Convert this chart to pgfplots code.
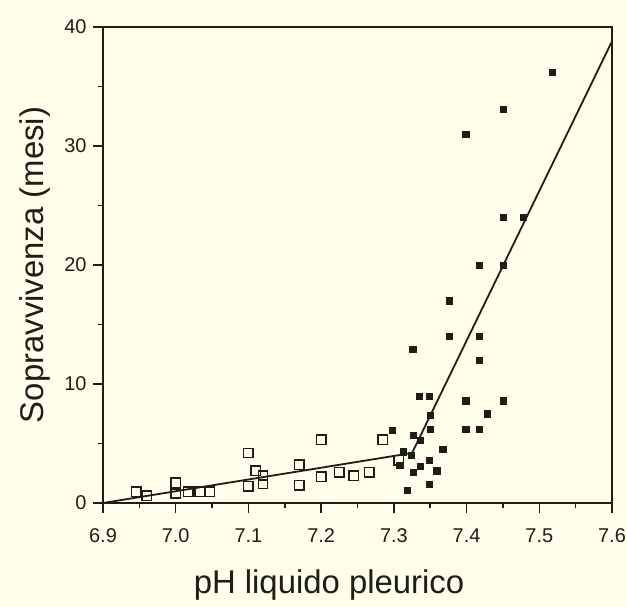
\documentclass[border=0pt]{standalone}
\usepackage{fontspec}
\setmainfont{Liberation Sans}
\usepackage{pgfplots}
\pgfplotsset{compat=1.18}
\definecolor{bg}{RGB}{255,255,236}
\definecolor{ink}{HTML}{1E1E18}
\begin{document}
\begin{tikzpicture}
\fill[bg] (-103bp,-104bp) rectangle (524bp,503bp);
\begin{axis}[
	at={(0,0)}, anchor=south west,
	scale only axis,
	width=509bp, height=476bp,
	xmin=6.9, xmax=7.6,
	ymin=0, ymax=40,
	xtick={6.9,7.0,7.1,7.2,7.3,7.4,7.5,7.6},
	ytick={0,10,20,30,40},
	minor x tick num=1,
	minor y tick num=1,
	xtick pos=left, ytick pos=left,
	tick align=outside,
	major tick length=10bp,
	minor tick length=5bp,
	axis line style={ink, line width=1.8bp},
	every tick/.style={ink, line width=1.5bp},
	/pgf/number format/assume math mode=true,
	tick label style={font=\fontsize{20}{24}\selectfont, text=ink},
	xticklabel style={yshift=-12bp, /pgf/number format/.cd, fixed, fixed zerofill, precision=1},
	yticklabel style={xshift=-3bp},
	xlabel={pH liquido pleurico},
	ylabel={Sopravvivenza (mesi)},
	xlabel style={font=\fontsize{33}{40}\selectfont, text=ink,
		at={(axis description cs:0.444,0)}, anchor=center, yshift=-82bp},
	ylabel style={font=\fontsize{33}{40}\selectfont, text=ink,
		at={(axis description cs:0,0.5)}, anchor=center, yshift=68bp},
	clip=false,
]

% piecewise regression line
\addplot[ink, line width=1.8bp] coordinates {(6.9,0) (7.325,4.2) (7.6,38.8)};

% open squares
\addplot[only marks, mark=square, mark size=4.7bp, mark options={ink, line width=1.5bp, fill=none}]
coordinates {
(6.946,0.95) (6.96,0.6) (7.0,1.7) (7.0,0.8) (7.017,0.95) (7.033,0.95) (7.047,0.95)
(7.1,4.2) (7.1,1.4) (7.11,2.7) (7.12,2.3) (7.12,1.6)
(7.17,3.2) (7.17,1.5) (7.2,5.3) (7.2,2.2) (7.225,2.6) (7.245,2.3) (7.266,2.6)
(7.285,5.3) (7.307,3.6)
};

% filled squares
\addplot[only marks, mark=square*, mark size=3.2bp, mark options={ink, fill=ink}]
coordinates {
(7.298,6.1) (7.308,3.2) (7.313,4.3) (7.318,1.1) (7.324,4.0) (7.327,5.7) (7.327,2.6)
(7.326,12.9) (7.335,9.0) (7.336,5.3) (7.336,3.1) (7.349,9.0) (7.35,7.4) (7.35,6.2)
(7.349,3.6) (7.349,1.6) (7.359,2.7) (7.367,4.5) (7.376,17.0) (7.376,14.0)
(7.399,31.0) (7.399,8.6) (7.399,6.2) (7.417,20.0) (7.417,14.0) (7.417,12.0) (7.417,6.2)
(7.428,7.5) (7.45,33.1) (7.45,24.0) (7.45,20.0) (7.45,8.6) (7.478,24.0) (7.518,36.2)
};
\end{axis}
\pgfresetboundingbox
\path[use as bounding box] (-103bp,-104bp) rectangle (524bp,503bp);
\end{tikzpicture}
\end{document}
